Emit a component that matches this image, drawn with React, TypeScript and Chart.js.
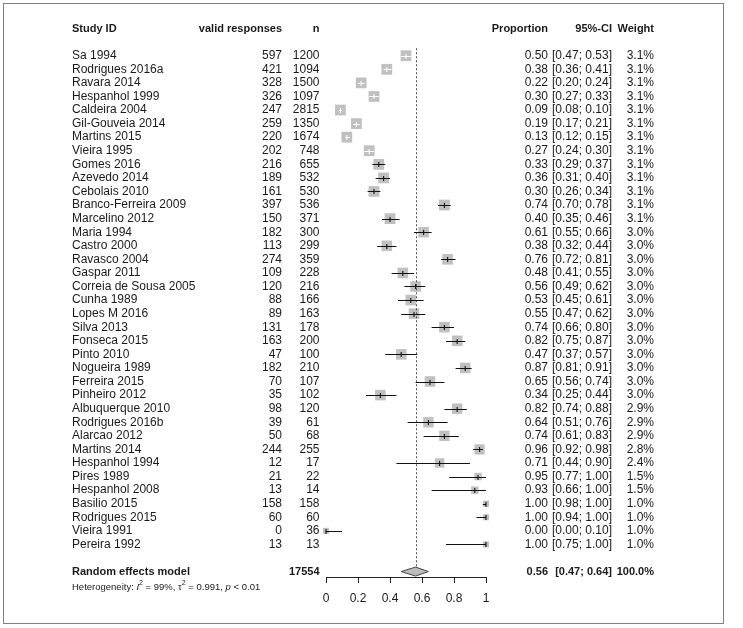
import React, { useEffect, useRef } from "react";
import { Chart, registerables } from "chart.js";

Chart.register(...registerables);

const studyIds = [
  "Sa 1994", "Rodrigues 2016a", "Ravara 2014", "Hespanhol 1999", "Caldeira 2004",
  "Gil-Gouveia 2014", "Martins 2015", "Vieira 1995", "Gomes 2016", "Azevedo 2014",
  "Cebolais 2010", "Branco-Ferreira 2009", "Marcelino 2012", "Maria 1994", "Castro 2000",
  "Ravasco 2004", "Gaspar 2011", "Correia de Sousa 2005", "Cunha 1989", "Lopes M 2016",
  "Silva 2013", "Fonseca 2015", "Pinto 2010", "Nogueira 1989", "Ferreira 2015",
  "Pinheiro 2012", "Albuquerque 2010", "Rodrigues 2016b", "Alarcao 2012", "Martins 2014",
  "Hespanhol 1994", "Pires 1989", "Hespanhol 2008", "Basilio 2015", "Rodrigues 2015",
  "Vieira 1991", "Pereira 1992",
];
const validResponses = [
  597, 421, 328, 326, 247, 259, 220, 202, 216, 189, 161, 397, 150, 182, 113, 274, 109, 120, 88,
  89, 131, 163, 47, 182, 70, 35, 98, 39, 50, 244, 12, 21, 13, 158, 60, 0, 13,
];
const totals = [
  1200, 1094, 1500, 1097, 2815, 1350, 1674, 748, 655, 532, 530, 536, 371, 300, 299, 359, 228,
  216, 166, 163, 178, 200, 100, 210, 107, 102, 120, 61, 68, 255, 17, 22, 14, 158, 60, 36, 13,
];
const proportions = [
  0.5, 0.38, 0.22, 0.3, 0.09, 0.19, 0.13, 0.27, 0.33, 0.36, 0.3, 0.74, 0.4, 0.61, 0.38, 0.76,
  0.48, 0.56, 0.53, 0.55, 0.74, 0.82, 0.47, 0.87, 0.65, 0.34, 0.82, 0.64, 0.74, 0.96, 0.71,
  0.95, 0.93, 1.0, 1.0, 0.0, 1.0,
];
const ciLower = [
  0.47, 0.36, 0.2, 0.27, 0.08, 0.17, 0.12, 0.24, 0.29, 0.31, 0.26, 0.7, 0.35, 0.55, 0.32, 0.72,
  0.41, 0.49, 0.45, 0.47, 0.66, 0.75, 0.37, 0.81, 0.56, 0.25, 0.74, 0.51, 0.61, 0.92, 0.44,
  0.77, 0.66, 0.98, 0.94, 0.0, 0.75,
];
const ciUpper = [
  0.53, 0.41, 0.24, 0.33, 0.1, 0.21, 0.15, 0.3, 0.37, 0.4, 0.34, 0.78, 0.46, 0.66, 0.44, 0.81,
  0.55, 0.62, 0.61, 0.62, 0.8, 0.87, 0.57, 0.91, 0.74, 0.44, 0.88, 0.76, 0.83, 0.98, 0.9, 1.0,
  1.0, 1.0, 1.0, 0.1, 1.0,
];
const weights = [
  3.1, 3.1, 3.1, 3.1, 3.1, 3.1, 3.1, 3.1, 3.1, 3.1, 3.1, 3.1, 3.1, 3.0, 3.0, 3.0, 3.0, 3.0, 3.0,
  3.0, 3.0, 3.0, 3.0, 3.0, 3.0, 3.0, 2.9, 2.9, 2.9, 2.8, 2.4, 1.5, 1.5, 1.0, 1.0, 1.0, 1.0,
];
const pooledLabel = "Random effects model";
const pooledTotal = 17554;
const pooledEstimate = 0.56;
const pooledLower = 0.47;
const pooledUpper = 0.64;
const pooledWeight = "100.0%";
const xTicks = [0, 0.2, 0.4, 0.6, 0.8, 1];
const headers = ["Study ID", "valid responses", "n", "Proportion", "95%-CI", "Weight"];

const FONT = '"Liberation Sans", Arial, sans-serif';
const TEXT = "#1a1a1a";
const SQUARE_K = 6.1;
const POOLED_ROW = studyIds.length + 2;

const forestPlugin = {
  id: "forest",
  afterDatasetsDraw(chart: any) {
    const { ctx } = chart;
    const x = chart.scales.x;
    const y = chart.scales.y;
    ctx.save();
    // reference line
    const xp = Math.round(x.getPixelForValue(pooledEstimate)) + 0.5;
    const yDiamond = y.getPixelForValue(POOLED_ROW);
    ctx.strokeStyle = "#555555";
    ctx.lineWidth = 1;
    ctx.setLineDash([2, 2]);
    ctx.beginPath();
    ctx.moveTo(xp, y.getPixelForValue(0.45));
    ctx.lineTo(xp, yDiamond - 4.5);
    ctx.stroke();
    ctx.setLineDash([]);
    // CIs
    for (let i = 0; i < studyIds.length; i++) {
      const yp = Math.round(y.getPixelForValue(i + 1)) + 0.5;
      const lo = x.getPixelForValue(ciLower[i]);
      const hi = x.getPixelForValue(ciUpper[i]);
      const cx = x.getPixelForValue(proportions[i]);
      const side = SQUARE_K * Math.sqrt(weights[i]);
      const inside = lo >= cx - side / 2 && hi <= cx + side / 2;
      ctx.strokeStyle = inside ? "#ffffff" : "#111111";
      ctx.lineWidth = 1.1;
      ctx.beginPath();
      ctx.moveTo(lo, yp);
      ctx.lineTo(hi, yp);
      ctx.moveTo(cx, yp - 2.5);
      ctx.lineTo(cx, yp + 2.5);
      ctx.stroke();
    }
    // diamond
    const dl = x.getPixelForValue(pooledLower);
    const dh = x.getPixelForValue(pooledUpper);
    const dc = x.getPixelForValue(pooledEstimate);
    ctx.beginPath();
    ctx.moveTo(dl, yDiamond);
    ctx.lineTo(dc, yDiamond - 4.5);
    ctx.lineTo(dh, yDiamond);
    ctx.lineTo(dc, yDiamond + 4.5);
    ctx.closePath();
    ctx.fillStyle = "#bdbdbd";
    ctx.fill();
    ctx.strokeStyle = "#444444";
    ctx.lineWidth = 1;
    ctx.stroke();
    ctx.restore();
  },
  afterDraw(chart: any) {
    const { ctx } = chart;
    const y = chart.scales.y;
    ctx.save();
    // frame
    ctx.strokeStyle = "#808080";
    ctx.lineWidth = 1;
    ctx.strokeRect(3.5, 3.5, 720, 620);

    ctx.fillStyle = TEXT;
    ctx.textBaseline = "middle";
    const colStudy = 72;
    const colValid = 282;
    const colN = 319.5;
    const colProp = 548;
    const colCI = 612;
    const colW = 654;

    const put = (t: string, xx: number, yy: number, align: CanvasTextAlign) => {
      ctx.textAlign = align;
      ctx.fillText(t, xx, yy);
    };

    // headers
    const yh = y.getPixelForValue(-1);
    ctx.font = `bold 11px ${FONT}`;
    put(headers[0], colStudy, yh, "left");
    put(headers[1], colValid, yh, "right");
    put(headers[2], colN, yh, "right");
    put(headers[3], colProp, yh, "right");
    put(headers[4], colCI, yh, "right");
    put(headers[5], colW, yh, "right");

    // rows
    ctx.font = `12px ${FONT}`;
    for (let i = 0; i < studyIds.length; i++) {
      const yy = y.getPixelForValue(i + 1);
      put(studyIds[i], colStudy, yy, "left");
      put(String(validResponses[i]), colValid, yy, "right");
      put(String(totals[i]), colN, yy, "right");
      put(proportions[i].toFixed(2), colProp, yy, "right");
      put(`[${ciLower[i].toFixed(2)}; ${ciUpper[i].toFixed(2)}]`, colCI, yy, "right");
      put(`${weights[i].toFixed(1)}%`, colW, yy, "right");
    }

    // pooled
    const yp = y.getPixelForValue(POOLED_ROW);
    ctx.font = `bold 11px ${FONT}`;
    put(pooledLabel, colStudy, yp, "left");
    put(String(pooledTotal), colN, yp, "right");
    put(pooledEstimate.toFixed(2), colProp, yp, "right");
    put(`[${pooledLower.toFixed(2)}; ${pooledUpper.toFixed(2)}]`, colCI, yp, "right");
    put(pooledWeight, colW, yp, "right");

    // heterogeneity
    const yhet = yp + 15.5;
    ctx.textAlign = "left";
    let cx = colStudy;
    const seg = (t: string, font: string, dy = 0) => {
      ctx.font = font;
      ctx.fillText(t, cx, yhet + dy);
      cx += ctx.measureText(t).width;
    };
    const reg = `9.5px ${FONT}`;
    const ita = `italic 9.5px ${FONT}`;
    const sup = `7px ${FONT}`;
    seg("Heterogeneity: ", reg);
    seg("I", ita);
    seg("2", sup, -4);
    seg(" = 99%, ", reg);
    seg("\u03c4", reg);
    seg("2", sup, -4);
    seg(" = 0.991, ", reg);
    seg("p", ita);
    seg(" < 0.01", reg);
    ctx.restore();
  },
};

export default function App() {
  const ref = useRef<HTMLCanvasElement | null>(null);
  useEffect(() => {
    if (!ref.current) return;
    const chart = new Chart(ref.current, {
      type: "scatter",
      data: {
        datasets: [
          {
            data: proportions.map((p, i) => ({ x: p, y: i + 1 })),
            pointStyle: "rect",
            pointRadius: weights.map((w) => (SQUARE_K * Math.sqrt(w)) / Math.SQRT2),
            pointHoverRadius: weights.map((w) => (SQUARE_K * Math.sqrt(w)) / Math.SQRT2),
            pointBackgroundColor: "#c0c0c0",
            pointBorderWidth: 0,
            showLine: false,
            clip: false,
          } as any,
        ],
      },
      options: {
        responsive: false,
        animation: false,
        devicePixelRatio: 1,
        events: [],
        layout: { padding: { left: 326, right: 257, top: 15, bottom: 0 } },
        plugins: { legend: { display: false }, tooltip: { enabled: false } },
        scales: {
          x: {
            type: "linear",
            position: "bottom",
            min: 0,
            max: 1,
            afterBuildTicks: (s: any) => {
              s.ticks = xTicks.map((v) => ({ value: v }));
            },
            afterFit: (s: any) => {
              s.height = 51;
            },
            ticks: {
              color: TEXT,
              font: { size: 12, family: FONT },
              padding: 8,
              maxRotation: 0,
              autoSkip: false,
              callback: (v: any) => String(Math.round(Number(v) * 10) / 10),
            },
            grid: {
              drawOnChartArea: false,
              drawTicks: true,
              tickLength: 6,
              color: "#222222",
            },
            border: { display: true, color: "#222222", width: 1 },
          },
          y: {
            type: "linear",
            display: false,
            min: -2,
            max: 39.4,
            reverse: true,
          },
        },
      },
      plugins: [forestPlugin],
    });
    return () => chart.destroy();
  }, []);
  return (
    <div style={{ position: "absolute", left: 0, top: 0, width: 743, height: 628, background: "#fff" }}>
      <canvas ref={ref} width={743} height={628} style={{ display: "block" }} />
    </div>
  );
}
